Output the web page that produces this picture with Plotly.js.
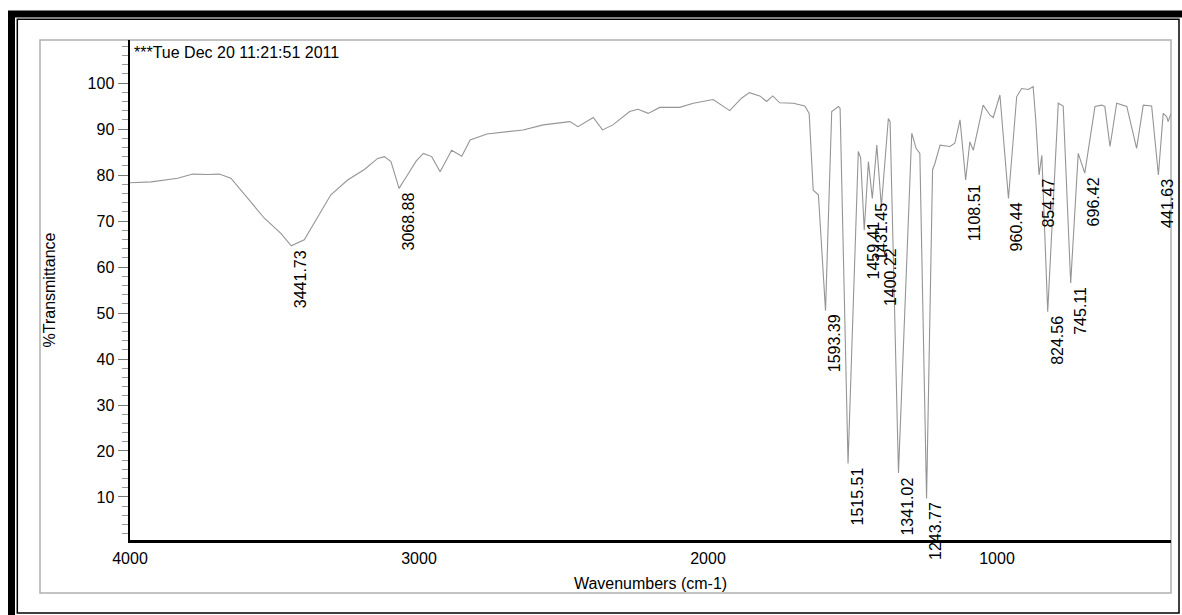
<!DOCTYPE html>
<html><head><meta charset="utf-8">
<script src="https://cdn.plot.ly/plotly-3.0.1.min.js"></script>
<style>html,body{margin:0;padding:0;background:#fff;}#chart{width:1182px;height:615px;}</style>
</head><body><div id="chart"></div>
<script>
// Spectrum (wavenumber in cm-1, %Transmittance)
const wavenumber = [
  4000, 3927, 3835, 3783, 3731, 3691, 3651, 3593, 3535, 3478,
  3442, 3397, 3351, 3305, 3247, 3189, 3143, 3120, 3097, 3069,
  3040, 3010, 2985, 2956, 2927, 2887, 2852, 2823, 2765, 2696,
  2640, 2570, 2478, 2450, 2397, 2365, 2329, 2271, 2242, 2207,
  2167, 2098, 2051, 1982, 1925, 1884, 1857, 1821, 1797, 1776,
  1752, 1705, 1690, 1665, 1650, 1636, 1618, 1593.4, 1572, 1549,
  1543, 1515.5, 1480, 1472, 1459.4, 1445, 1431.5, 1416, 1400.2, 1376,
  1370, 1341, 1295, 1280, 1267, 1243.8, 1223, 1215, 1197, 1163,
  1146, 1128, 1108.5, 1094, 1082, 1048, 1024, 1013, 990, 960.4,
  932, 915, 892, 875, 866, 854.5, 845, 824.6, 788, 771,
  745.1, 719, 696.4, 661, 638, 627, 609, 586, 551, 517,
  494, 465, 441.6, 425, 413, 408, 398
];
const transmittance = [
  78.3, 78.5, 79.3, 80.2, 80.1, 80.2, 79.3, 74.9, 70.6, 67.3,
  64.6, 65.9, 70.9, 75.7, 78.9, 81.2, 83.6, 84.0, 82.9, 77.1,
  80.0, 83.0, 84.7, 84.0, 80.7, 85.4, 84.1, 87.6, 88.9, 89.4,
  89.8, 90.9, 91.6, 90.5, 92.5, 89.8, 90.9, 93.8, 94.3, 93.4,
  94.7, 94.7, 95.6, 96.4, 94.0, 96.7, 97.9, 97.2, 96.0, 97.2,
  95.7, 95.6, 95.4, 95.0, 93.4, 76.7, 75.7, 50.5, 93.8, 94.9,
  94.5, 17.3, 85.1, 83.8, 68.0, 82.9, 74.9, 86.5, 73.1, 92.3,
  91.6, 15.2, 89.1, 85.8, 84.7, 9.7, 81.1, 82.5, 86.5, 86.2,
  86.9, 92.0, 78.9, 87.2, 85.4, 95.2, 93.0, 92.5, 97.4, 74.9,
  97.0, 98.8, 98.6, 99.2, 92.0, 80.0, 84.3, 50.3, 95.6, 95.0,
  56.5, 84.7, 80.4, 94.9, 95.2, 94.9, 86.2, 95.6, 94.9, 85.8,
  95.2, 95.0, 80.0, 93.4, 92.7, 91.6, 93.4
];
// Labelled peaks
const peakWavenumbers = [3441.73, 3068.88, 1593.39, 1515.51, 1459.41, 1431.45, 1400.22, 1341.02,
                         1243.77, 1108.51, 960.44, 854.47, 824.56, 745.11, 696.42, 441.63];
const peakTransmittance = [64.6, 77.1, 50.5, 17.3, 68.0, 74.9, 73.1, 15.2,
                           9.7, 78.9, 74.9, 80.0, 50.3, 56.5, 80.4, 80.0];
const xTickValues = [4000, 3000, 2000, 1000];
const xTickLabels = ['4000', '3000', '2000', '1000'];
const yTickValues = [10, 20, 30, 40, 50, 60, 70, 80, 90, 100];
const yTickLabels = ['10', '20', '30', '40', '50', '60', '70', '80', '90', '100'];
const stampText = '***Tue Dec 20 11:21:51 2011';

// layout helpers (pixel -> paper), plot area is x 130..1171, y 40..540
const PX = px => (px - 130) / 1041;
const PY = py => (540 - py) / 500;
const FONT = 'Liberation Sans, Arial, Helvetica, sans-serif';

// label nudges for the two crowded labels
const labelShift = {'1459.41': 13, '1400.22': -37};

const annotations = peakWavenumbers.map((w, i) => ({
  x: w, y: peakTransmittance[i], xref: 'x', yref: 'y',
  text: w.toFixed(2), showarrow: false, textangle: -90,
  xanchor: 'center', yanchor: 'top',
  xshift: 9, yshift: -2 + (labelShift[w.toFixed(2)] || 0),
  font: {family: FONT, size: 16, color: '#000'}
}));
annotations.push({
  x: PX(132), y: PY(52), xref: 'paper', yref: 'paper',
  text: stampText, showarrow: false, xanchor: 'left', yanchor: 'middle',
  font: {family: FONT, size: 16, color: '#000'}
});

const shapes = [
  // grey inner frame
  {type: 'rect', xref: 'paper', yref: 'paper', x0: PX(40), x1: PX(1171), y0: PY(593), y1: PY(40),
   line: {color: '#b0b0b0', width: 1.5}, layer: 'below'},
  // thick outer black frame
  {type: 'rect', xref: 'paper', yref: 'paper', x0: PX(11.5), x1: PX(1186), y0: PY(619), y1: PY(14),
   line: {color: '#000', width: 7}},
  // thin inner black frame
  {type: 'rect', xref: 'paper', yref: 'paper', x0: PX(17.3), x1: PX(1179), y0: PY(613), y1: PY(19.3),
   line: {color: '#000', width: 1.5}}
];

const trace = {
  x: wavenumber, y: transmittance, type: 'scatter', mode: 'lines',
  line: {color: '#959595', width: 1.1}, hoverinfo: 'skip', showlegend: false
};

const layout = {
  width: 1182, height: 615,
  margin: {l: 130, r: 11, t: 40, b: 75, pad: 0},
  paper_bgcolor: '#fff', plot_bgcolor: '#fff',
  font: {family: FONT, size: 16, color: '#000'},
  showlegend: false,
  xaxis: {
    range: [4000, 398], autorange: false, automargin: false,
    tickmode: 'array', tickvals: xTickValues, ticktext: xTickLabels,
    ticks: '', ticklabelstandoff: 2,
    tickfont: {family: FONT, size: 16, color: '#000'},
    showgrid: false, zeroline: false,
    showline: true, linecolor: '#000', linewidth: 2.5, mirror: false,
    title: {text: 'Wavenumbers (cm-1)', font: {family: FONT, size: 16, color: '#000'}, standoff: 12}
  },
  yaxis: {
    range: [0.65, 109.35], autorange: false, automargin: false,
    tickmode: 'array', tickvals: yTickValues, ticktext: yTickLabels,
    ticks: 'outside', ticklen: 10, tickcolor: '#777', tickwidth: 1,
    minor: {dtick: 2, ticks: 'outside', ticklen: 6, tickcolor: '#999', tickwidth: 1, showgrid: false},
    tickfont: {family: FONT, size: 16, color: '#000'},
    showgrid: false, zeroline: false,
    showline: true, linecolor: '#000', linewidth: 2.5, mirror: false,
    title: {text: '%Transmittance', font: {family: FONT, size: 16, color: '#000'}, standoff: 28}
  },
  annotations: annotations,
  shapes: shapes
};

Plotly.newPlot('chart', [trace], layout, {staticPlot: true, displayModeBar: false});
</script>
</body></html>
